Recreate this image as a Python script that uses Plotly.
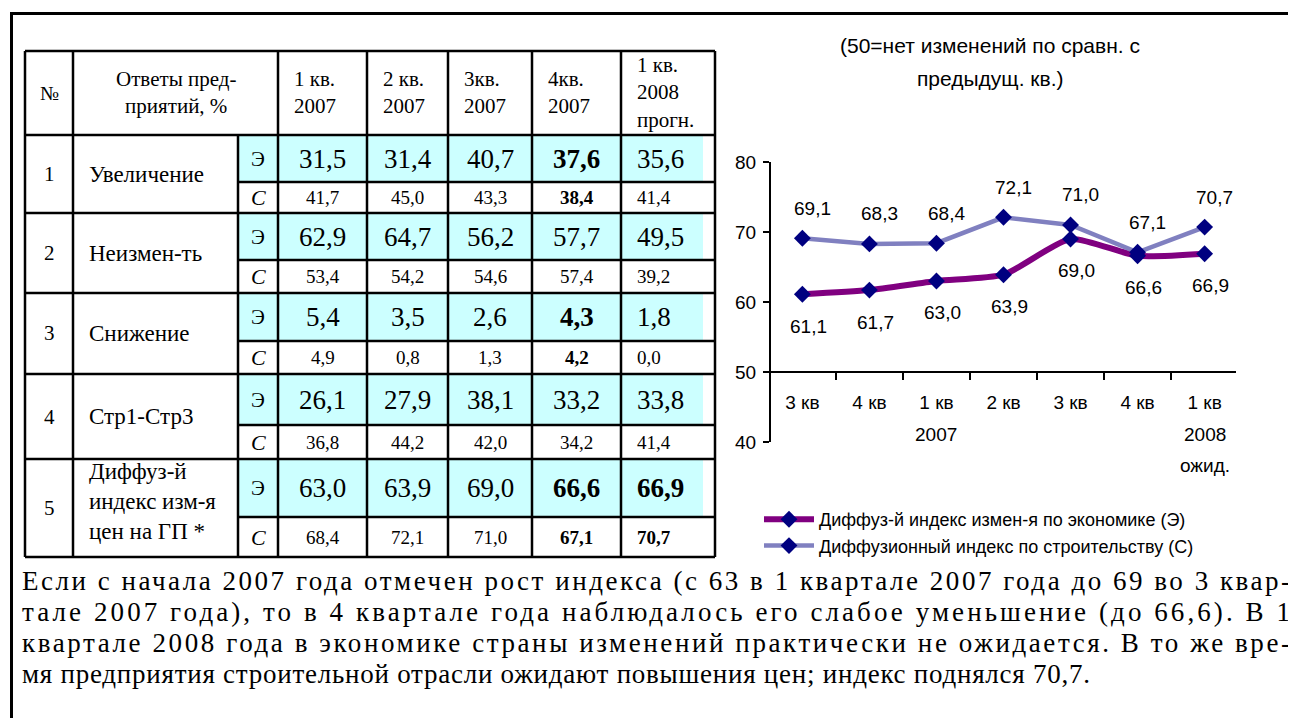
import json
import plotly.graph_objects as go

# page is offset by the 8px body margin, so the figure covers page px 8..1296 x 8..718
W, H = 1288, 710
OFF = 8

# ---- chart data ----
periods = ["3 кв 2006", "4 кв 2006", "1 кв 2007", "2 кв 2007", "3 кв 2007", "4 кв 2007", "1 кв 2008"]
quarter_labels = ["3 кв", "4 кв", "1 кв", "2 кв", "3 кв", "4 кв", "1 кв"]
year_line1 = ["", "", "2007", "", "", "", "2008"]
year_line2 = ["", "", "", "", "", "", "ожид."]
econ_index = [61.1, 61.7, 63.0, 63.9, 69.0, 66.6, 66.9]
constr_index = [69.1, 68.3, 68.4, 72.1, 71.0, 67.1, 70.7]

# ---- table data ----
col_heads = ["1 кв.<br>2007", "2 кв.<br>2007", "3кв.<br>2007", "4кв.<br>2007", "1 кв.<br>2008<br>прогн."]
row_nums = ["1", "2", "3", "4", "5"]
row_names = ["Увеличение", "Неизмен-ть", "Снижение", "Стр1-Стр3", "Диффуз-й<br>индекс изм-я<br>цен на ГП *"]
econ_tab = [
    [31.5, 31.4, 40.7, 37.6, 35.6],
    [62.9, 64.7, 56.2, 57.7, 49.5],
    [5.4, 3.5, 2.6, 4.3, 1.8],
    [26.1, 27.9, 38.1, 33.2, 33.8],
    [63.0, 63.9, 69.0, 66.6, 66.9],
]
constr_tab = [
    [41.7, 45.0, 43.3, 38.4, 41.4],
    [53.4, 54.2, 54.6, 57.4, 39.2],
    [4.9, 0.8, 1.3, 4.2, 0.0],
    [36.8, 44.2, 42.0, 34.2, 41.4],
    [68.4, 72.1, 71.0, 67.1, 70.7],
]
bold_cells = [(0, 3), (2, 3), (4, 3), (4, 4)]

paragraph = [
    "Если с начала 2007 года отмечен рост индекса (с 63 в 1 квартале 2007 года до 69 во 3 квар-",
    "тале 2007 года), то в 4 квартале года наблюдалось его слабое уменьшение (до 66,6). В 1",
    "квартале 2008 года в экономике страны изменений практически не ожидается. В то же вре-",
    "мя предприятия строительной отрасли ожидают повышения цен; индекс поднялся 70,7.",
]

SERIF = "Liberation Serif"
SANS = "Liberation Sans"


def fx(px):
    return (px - OFF) / W


def fy(py):
    return 1 - (py - OFF) / H


def num(v):
    return f"{v:.1f}".replace(".", ",")


def label(x, y, text, size, family=SERIF, xanchor="center", align="center", **kw):
    return dict(x=x, y=y, xref=kw.pop("xref", "paper"), yref=kw.pop("yref", "paper"), text=text,
                showarrow=False, xanchor=xanchor, yanchor="middle", align=align,
                font=dict(family=family, size=size, color="black"), **kw)


fig = go.Figure()

fig.add_trace(go.Scatter(
    x=periods, y=econ_index, mode="lines+markers",
    name="Диффуз-й индекс измен-я по экономике (Э)",
    line=dict(color="#800080", width=6, shape="spline", smoothing=0.6),
    marker=dict(symbol="diamond", size=13, color="#000080"),
))
fig.add_trace(go.Scatter(
    x=periods, y=constr_index, mode="lines+markers",
    name="Диффузионный индекс по строительству (С)",
    line=dict(color="#8080C0", width=4.5),
    marker=dict(symbol="diamond", size=13, color="#000080"),
))

ann = []
for p, v in zip(periods, econ_index):
    ann.append(label(p, v, num(v), 19, SANS, xref="x", yref="y", xshift=6, yshift=-32))
for p, v in zip(periods, constr_index):
    ann.append(label(p, v, num(v), 19, SANS, xref="x", yref="y", xshift=10, yshift=30))
for p, t1, t2 in zip(periods, year_line1, year_line2):
    if t1:
        ann.append(label(p, fy(434), t1, 19, SANS, xref="x"))
    if t2:
        ann.append(label(p, fy(465), t2, 19, SANS, xref="x"))

# chart title
ann.append(label(fx(990), fy(45), "(50=нет изменений по сравн. с", 21, SANS))
ann.append(label(fx(990), fy(79), "предыдущ. кв.)", 21, SANS))

# ---- table geometry ----
cols = [25, 73, 238, 278, 367, 448, 532, 621, 715]
head_top, head_bot = 51, 135
rows = [(135, 182, 213), (213, 260, 293), (293, 341, 374), (374, 425, 459), (459, 517, 557)]
tab_bot = rows[-1][2]
shapes = []
for top, mid, bot in rows:
    shapes.append(dict(type="rect", xref="paper", yref="paper", x0=fx(cols[2]), x1=fx(cols[-1] - 12),
                       y0=fy(mid), y1=fy(top), fillcolor="#CCFFFF", line=dict(width=0), layer="below"))


def hline(y, x0, x1, w=2.5):
    shapes.append(dict(type="line", xref="paper", yref="paper", x0=fx(x0), x1=fx(x1), y0=fy(y), y1=fy(y),
                       line=dict(color="black", width=w)))


def vline(x, y0, y1, w=2.5):
    shapes.append(dict(type="line", xref="paper", yref="paper", x0=fx(x), x1=fx(x), y0=fy(y0), y1=fy(y1),
                       line=dict(color="black", width=w)))


hline(head_top, cols[0], cols[-1])
hline(head_bot, cols[0], cols[-1])
for top, mid, bot in rows:
    hline(mid, cols[2], cols[-1])
    hline(bot, cols[0], cols[-1])
for c in [cols[0], cols[1]] + cols[3:]:
    vline(c, head_top, tab_bot)
vline(cols[2], head_bot, tab_bot)

# outer frame
vline(11.5, 12, 718, 3)
hline(13.5, 10, 1296, 3)

ann.append(label(fx((cols[0] + cols[1]) / 2), fy(93), "№", 20))
ann.append(label(fx((cols[1] + cols[3]) / 2), fy(93), "Ответы пред-<br>приятий, %", 21))
for j, h in enumerate(col_heads):
    ann.append(label(fx(cols[3 + j] + 14), fy(93), h, 21, xanchor="left", align="left"))

for i, (top, mid, bot) in enumerate(rows):
    cy = (top + bot) / 2
    ann.append(label(fx((cols[0] + cols[1]) / 2), fy(cy), row_nums[i], 21))
    ann.append(label(fx(cols[1] + 14), fy(cy - 7 if i == 4 else cy), row_names[i], 23,
                     xanchor="left", align="left"))
    ann.append(label(fx((cols[2] + cols[3]) / 2), fy((top + mid) / 2), "Э", 21))
    ann.append(label(fx((cols[2] + cols[3]) / 2), fy((mid + bot) / 2), "<i>С</i>", 22))
    for j in range(5):
        last = j == 4
        cx = cols[7] + 14 if last else (cols[3 + j] + cols[4 + j]) / 2
        e = num(econ_tab[i][j])
        c = num(constr_tab[i][j])
        if (i, j) in bold_cells:
            e, c = f"<b>{e}</b>", f"<b>{c}</b>"
        anchor = "left" if last else "center"
        ann.append(label(fx(cx), fy((top + mid) / 2), e, 27, xanchor=anchor))
        ann.append(label(fx(cx), fy((mid + bot) / 2), c, 19, xanchor=anchor))

# paragraph under the chart, justified afterwards by textLength
par_widths = {}
for k, line in enumerate(paragraph):
    ann.append(label(fx(20), fy(581 + 31 * k), line, 27, xanchor="left", align="left"))
    par_widths[line[:20]] = 1268 if k < len(paragraph) - 1 else 1068

fig.update_layout(
    width=W, height=H,
    margin=dict(l=0, r=0, t=0, b=0, autoexpand=False),
    paper_bgcolor="white", plot_bgcolor="rgba(0,0,0,0)",
    showlegend=True,
    legend=dict(x=fx(759), y=fy(501), xanchor="left", yanchor="top", bgcolor="rgba(0,0,0,0)",
                font=dict(family=SANS, size=18, color="black"), itemwidth=50, tracegroupgap=0),
    xaxis=dict(domain=[fx(771), fx(1236)], type="category", categoryorder="array", categoryarray=periods,
               tickmode="array", tickvals=periods, ticktext=quarter_labels, tickson="boundaries",
               ticks="outside", ticklen=7, tickwidth=2, tickcolor="black",
               showline=True, linewidth=2, linecolor="black", showgrid=False, zeroline=False,
               anchor="free", position=fy(372), ticklabelstandoff=13, automargin=False,
               tickfont=dict(family=SANS, size=19, color="black")),
    yaxis=dict(domain=[fy(442), fy(162)], range=[40, 80], dtick=10, ticks="outside", ticklen=6,
               tickwidth=2, tickcolor="black", showline=True, linewidth=2, linecolor="black",
               showgrid=False, zeroline=False, automargin=False, ticklabelstandoff=3,
               tickfont=dict(family=SANS, size=19, color="black")),
    shapes=shapes,
    annotations=ann,
)

justify = """
var gd = document.getElementById('{plot_id}');
var widths = %s;
gd.querySelectorAll('text.annotation-text').forEach(function (t) {
  var key = t.textContent.slice(0, 20);
  if (widths.hasOwnProperty(key)) {
    t.setAttribute('textLength', widths[key]);
    t.setAttribute('lengthAdjust', 'spacing');
  }
});
""" % json.dumps(par_widths, ensure_ascii=False)

fig.write_html("out.html", config={"displayModeBar": False, "responsive": False}, post_script=justify)
